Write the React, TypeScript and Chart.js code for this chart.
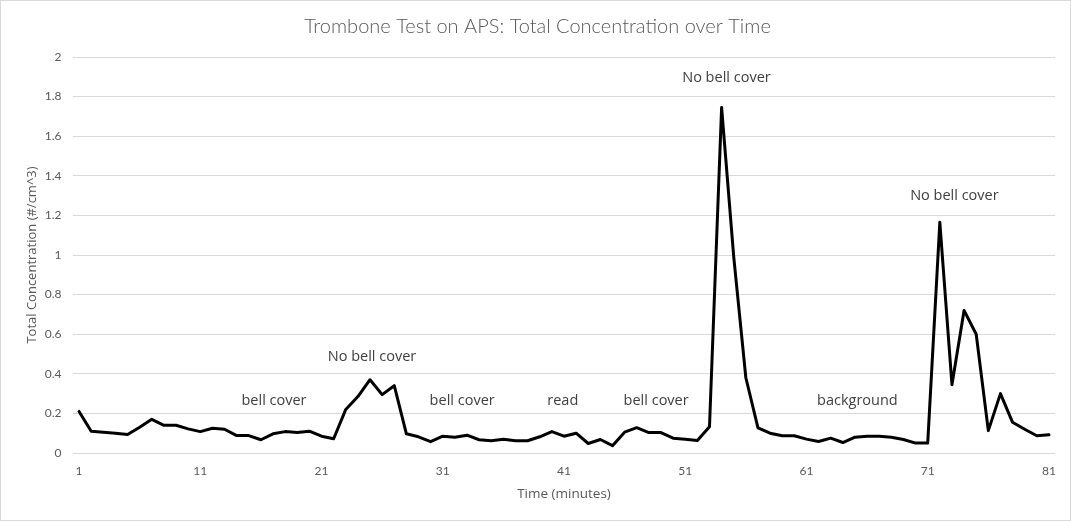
import React, { useEffect, useRef } from "react";
import { Chart, registerables } from "chart.js";

Chart.register(...registerables);

const minutes: string[] = [
  "1", "2", "3", "4", "5", "6", "7", "8", "9", "10",
  "11", "12", "13", "14", "15", "16", "17", "18", "19", "20",
  "21", "22", "23", "24", "25", "26", "27", "28", "29", "30",
  "31", "32", "33", "34", "35", "36", "37", "38", "39", "40",
  "41", "42", "43", "44", "45", "46", "47", "48", "49", "50",
  "51", "52", "53", "54", "55", "56", "57", "58", "59", "60",
  "61", "62", "63", "64", "65", "66", "67", "68", "69", "70",
  "71", "72", "73", "74", "75", "76", "77", "78", "79", "80",
  "81",
];

const totalConcentration: number[] = [
  0.21, 0.11, 0.105, 0.1, 0.093, 0.13, 0.17, 0.14, 0.14, 0.122,
  0.108, 0.125, 0.12, 0.088, 0.088, 0.067, 0.097, 0.108, 0.103, 0.11,
  0.085, 0.072, 0.22, 0.285, 0.37, 0.295, 0.34, 0.097, 0.082, 0.057,
  0.085, 0.08, 0.09, 0.067, 0.062, 0.07, 0.062, 0.062, 0.082, 0.108,
  0.085, 0.1, 0.048, 0.068, 0.037, 0.105, 0.128, 0.103, 0.103, 0.075,
  0.07, 0.063, 0.133, 1.745, 0.99, 0.38, 0.127, 0.1, 0.087, 0.087,
  0.07, 0.058, 0.075, 0.053, 0.08, 0.085, 0.085, 0.08, 0.068, 0.05,
  0.05, 1.165, 0.345, 0.72, 0.6, 0.113, 0.3, 0.155, 0.12, 0.087,
  0.092,
];

// annotation labels: text, category index (0-based, fractional), value
const noteTexts: string[] = [
  "bell cover", "No bell cover", "bell cover", "read",
  "bell cover", "No bell cover", "background", "No bell cover",
];
const noteIndex: number[] = [16.08, 24.16, 31.6, 39.9, 47.6, 53.4, 64.2, 72.2];
const noteValue: number[] = [0.263, 0.485, 0.263, 0.263, 0.263, 1.894, 0.263, 1.298];

const titleText = "Trombone Test on APS: Total Concentration over Time";
const xTitle = "Time (minutes)";
const yTitle = "Total Concentration (#/cm^3)";

const TICK_FONT = "Lato, 'Open Sans', sans-serif";
const AXIS_TITLE_FONT = "'Open Sans', sans-serif";

const backgroundPlugin = {
  id: "bgFrame",
  beforeDraw(chart: any) {
    const { ctx, width, height } = chart;
    ctx.save();
    ctx.fillStyle = "#ffffff";
    ctx.fillRect(0, 0, width, height);
    ctx.strokeStyle = "#d9d9d9";
    ctx.lineWidth = 1;
    ctx.strokeRect(0.5, 0.5, width - 1, height - 3);
    ctx.restore();
  },
};

const notesPlugin = {
  id: "notes",
  afterDatasetsDraw(chart: any) {
    const { ctx, scales } = chart;
    const xs = scales.x;
    const ys = scales.y;
    ctx.save();
    ctx.font = "14.5px 'Open Sans', sans-serif";
    ctx.fillStyle = "#404040";
    ctx.textAlign = "center";
    ctx.textBaseline = "middle";
    noteTexts.forEach((t, i) => {
      const x = xs.getPixelForValue(noteIndex[i]);
      const y = ys.getPixelForValue(noteValue[i]);
      ctx.fillText(t, x, y);
    });
    ctx.restore();
  },
};

export default function App() {
  const canvasRef = useRef<HTMLCanvasElement | null>(null);

  useEffect(() => {
    if (!canvasRef.current) return;
    const chart = new Chart(canvasRef.current, {
      type: "line",
      data: {
        labels: minutes,
        datasets: [
          {
            label: "Total Concentration",
            data: totalConcentration,
            borderColor: "#000000",
            borderWidth: 3,
            borderJoinStyle: "round",
            borderCapStyle: "round",
            pointRadius: 0,
            pointHoverRadius: 0,
            tension: 0,
            fill: false,
          },
        ],
      },
      options: {
        responsive: false,
        maintainAspectRatio: false,
        animation: false,
        layout: { padding: { left: 20, right: 16, top: 0, bottom: 0 } },
        plugins: {
          legend: { display: false },
          tooltip: { enabled: false },
          title: {
            display: true,
            text: titleText,
            color: "#595959",
            font: { family: "Lato, 'Open Sans', sans-serif", size: 20, weight: "300" as any },
            padding: { top: 15, bottom: 18 },
          },
        },
        scales: {
          x: {
            type: "category",
            offset: true,
            grid: { display: false, drawTicks: false },
            border: { display: false },
            ticks: {
              autoSkip: false,
              maxRotation: 0,
              padding: 11,
              color: "#595959",
              font: { family: TICK_FONT, size: 12 },
              callback: function (_v: any, index: number) {
                return index % 10 === 0 ? minutes[index] : null;
              },
            },
            title: {
              display: true,
              text: xTitle,
              color: "#595959",
              font: { family: AXIS_TITLE_FONT, size: 13.5 },
              padding: { top: 0, bottom: 21 },
            },
            afterFit(scale: any) {
              scale.height = 70;
            },
          },
          y: {
            min: 0,
            max: 2,
            ticks: {
              stepSize: 0.2,
              padding: 11.5,
              color: "#595959",
              font: { family: TICK_FONT, size: 12 },
              callback: function (v: any) {
                return String(Number(Number(v).toFixed(1)));
              },
            },
            grid: { color: "#d9d9d9", lineWidth: 1, drawTicks: false },
            border: { display: false },
            title: {
              display: true,
              text: yTitle,
              color: "#595959",
              font: { family: AXIS_TITLE_FONT, size: 13 },
              padding: { top: 4, bottom: 0 },
            },
            afterFit(scale: any) {
              scale.width = 53;
            },
          },
        },
      },
      plugins: [backgroundPlugin, notesPlugin],
    });
    return () => chart.destroy();
  }, []);

  return (
    <div style={{ position: "fixed", left: 0, top: 0, width: 1071, height: 523 }}>
      <canvas ref={canvasRef} width={1071} height={523} />
    </div>
  );
}
